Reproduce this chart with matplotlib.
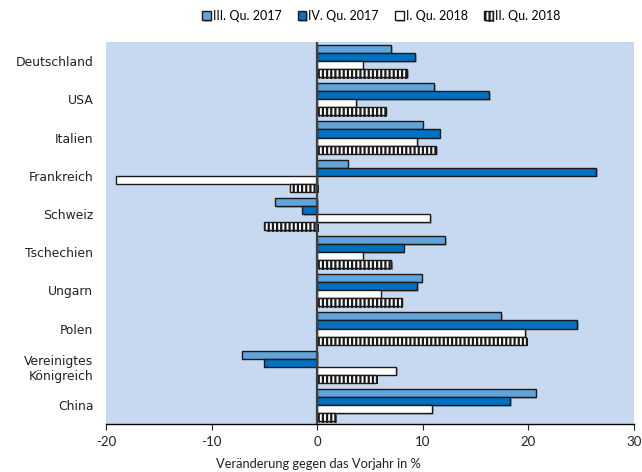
import numpy as np
import matplotlib.pyplot as plt
import matplotlib.patheffects as pe

plt.rcParams['font.family'] = ['Lato', 'DejaVu Sans']
plt.rcParams['hatch.linewidth'] = 1.6
plt.rcParams['axes.unicode_minus'] = False

laender = ["Deutschland", "USA", "Italien", "Frankreich", "Schweiz", "Tschechien",
           "Ungarn", "Polen", "Vereinigtes\nKönigreich", "China"]
q3_2017 = [7.0, 11.1, 10.0, 2.9, -4.0, 12.1, 9.9, 17.4, -7.1, 20.7]
q4_2017 = [9.3, 16.3, 11.6, 26.4, -1.4, 8.2, 9.5, 24.6, -5.0, 18.3]
q1_2018 = [4.3, 3.7, 9.5, -19.0, 10.7, 4.3, 6.0, 19.7, 7.5, 10.9]
q2_2018 = [8.5, 6.5, 11.3, -2.6, -5.0, 7.0, 8.0, 19.8, 5.6, 1.7]
serien = ["III. Qu. 2017", "IV. Qu. 2017", "I. Qu. 2018", "II. Qu. 2018"]

fig = plt.figure(figsize=(6.42, 4.72), dpi=100)
ax = fig.add_axes([0.165, 0.1017, 0.8225, 0.8093])
ax.set_facecolor("#C6D9F0")

y = np.arange(len(laender))
h = 0.21
shadow = [pe.SimplePatchShadow(offset=(1.2, -1.2), shadow_rgbFace="#8590a0", alpha=0.6), pe.Normal()]
stile = [dict(color="#62A3D9", hatch=None),
         dict(color="#0070C0", hatch=None),
         dict(color="white", hatch=None),
         dict(color="white", hatch="||||")]
for i, (werte, st, name) in enumerate(zip([q3_2017, q4_2017, q1_2018, q2_2018], stile, serien)):
    bars = ax.barh(y + (i - 1.5) * h, werte, height=h, color=st["color"],
                   edgecolor="#1a1a1a", linewidth=1.0, hatch=st["hatch"], label=name)
    for b in bars:
        b.set_path_effects(shadow)

ax.axvline(0, color="#404040", linewidth=1.6, zorder=5)
ax.set_xlim(-20, 30)
ax.set_ylim(len(laender) - 0.5, -0.5)
ax.set_xticks([-20, -10, 0, 10, 20, 30])
ax.set_yticks(y)
ax.set_yticklabels(laender, fontsize=8.9, color="#222222", family=["DejaVu Sans"])
ax.tick_params(axis="y", length=0, pad=9)
ax.tick_params(axis="x", direction="out", length=4, labelsize=9.5, colors="#222222", pad=5)
for s in ["top", "right", "left"]:
    ax.spines[s].set_visible(False)
ax.spines["bottom"].set_linewidth(1.0)

fig.text(318 / 642, 1 - 464 / 472, "Veränderung gegen das Vorjahr in %", ha="center",
         va="center", fontsize=9.3, color="#222222")

fig.legend(loc="center", bbox_to_anchor=(381 / 642, 1 - 16 / 472), ncol=4, frameon=False,
           fontsize=9, handlelength=0.7, handleheight=0.7, handletextpad=0.15,
           columnspacing=1.3)

fig.savefig("out.png", dpi=100)
